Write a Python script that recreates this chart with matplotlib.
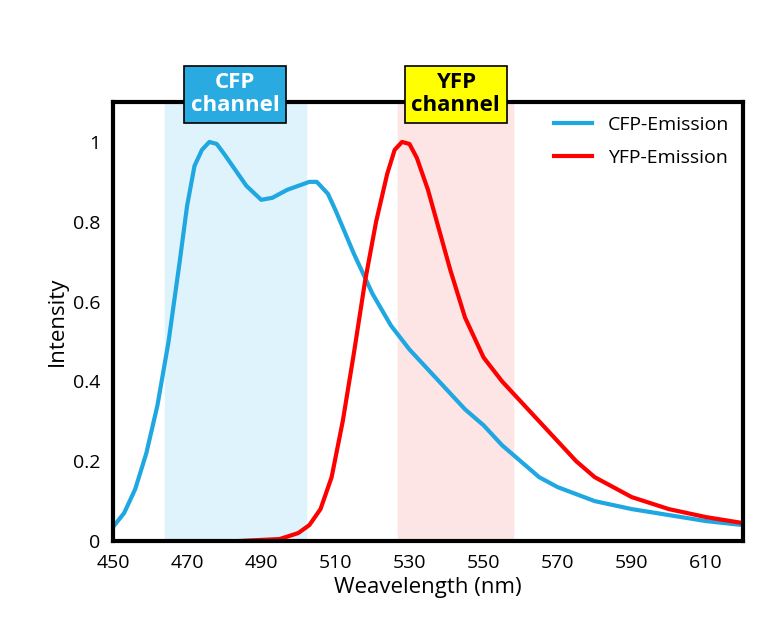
import numpy as np
import matplotlib.pyplot as plt

cfp_x = [450, 453, 456, 459, 462, 465, 468, 470, 472, 474, 476, 478, 480, 483, 486, 490, 493, 497, 500,
         503, 505, 508, 510, 515, 520, 525, 530, 535, 540, 545, 550, 555, 560, 565, 570, 580, 590, 600, 610, 620]
cfp_y = [0.035, 0.07, 0.13, 0.22, 0.34, 0.5, 0.7, 0.84, 0.94, 0.98, 1.0, 0.995, 0.97, 0.93, 0.89, 0.855, 0.86, 0.88, 0.89,
         0.9, 0.9, 0.87, 0.83, 0.72, 0.62, 0.54, 0.48, 0.43, 0.38, 0.33, 0.29, 0.24, 0.2, 0.16, 0.135, 0.1, 0.08, 0.065, 0.05, 0.04]
yfp_x = [484, 495, 500, 503, 506, 509, 512, 515, 518, 521, 524, 526, 528, 530, 532, 535, 538, 541, 545,
         550, 555, 560, 565, 570, 575, 580, 590, 600, 610, 620]
yfp_y = [0.0, 0.005, 0.02, 0.04, 0.08, 0.16, 0.3, 0.47, 0.65, 0.8, 0.92, 0.98, 1.0, 0.995, 0.96, 0.88, 0.78, 0.68, 0.56,
         0.46, 0.4, 0.35, 0.3, 0.25, 0.2, 0.16, 0.11, 0.08, 0.06, 0.045]
cfp_band = (464, 502)
yfp_band = (527, 558)

plt.rcParams['font.family'] = ['Open Sans', 'DejaVu Sans']
fig = plt.figure(figsize=(7.77, 6.33), dpi=100)
ax = fig.add_axes([0.1454, 0.1453, 0.8108, 0.6935])

ax.axvspan(*cfp_band, color='#def3fb', zorder=0)
ax.axvspan(*yfp_band, color='#fde5e5', zorder=0)
ax.plot(cfp_x, cfp_y, color='#1ea7e1', lw=3, label='CFP-Emission')
ax.plot(yfp_x, yfp_y, color='#ff0000', lw=3, label='YFP-Emission')

ax.set_xlim(450, 620)
ax.set_ylim(0, 1.1)
ax.set_xticks(range(450, 621, 20))
ax.set_yticks([0, 0.2, 0.4, 0.6, 0.8, 1])
ax.set_yticklabels(['0', '0.2', '0.4', '0.6', '0.8', '1'])
ax.tick_params(labelsize=14, length=0, pad=9)
for s in ax.spines.values():
    s.set_linewidth(3)
ax.set_xlabel('Weavelength (nm)', fontsize=16)
ax.set_ylabel('Intensity', fontsize=16)
ax.legend(loc='upper right', frameon=False, fontsize=14, bbox_to_anchor=(1.0, 1.0),
          handlelength=2, borderaxespad=0.3, labelspacing=0.8)

for band, col in [(cfp_band, '#29abe2'), (yfp_band, '#ffff00')]:
    name = 'CFP' if col == '#29abe2' else 'YFP'
    ax.text(sum(band) / 2, 1.12, name + '\nchannel', ha='center', va='center',
            fontsize=16, fontweight='bold', color='white' if name == 'CFP' else 'black',
            linespacing=1.1, clip_on=False, zorder=5,
            bbox=dict(boxstyle='square,pad=0.3', fc=col, ec='black', lw=1.2))

fig.savefig('out.png', dpi=100)
